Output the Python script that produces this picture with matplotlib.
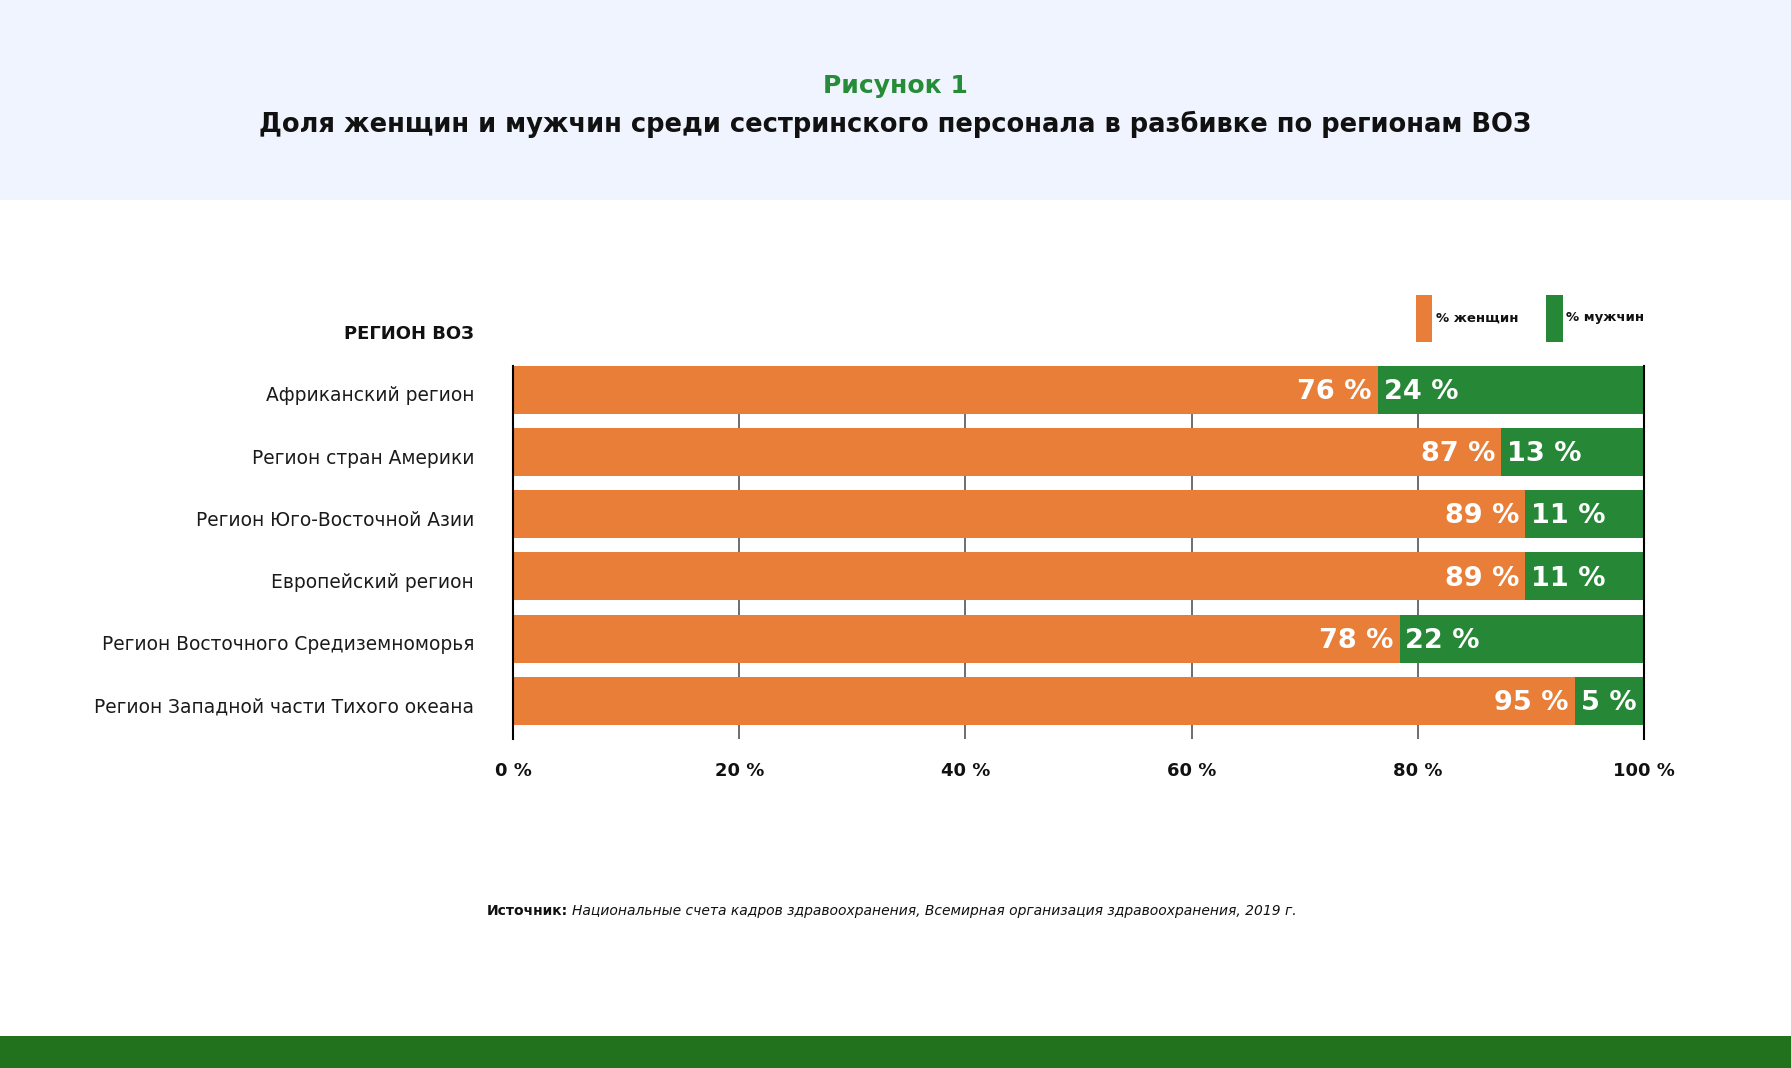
import matplotlib
matplotlib.use("Agg")
import matplotlib.pyplot as plt
from matplotlib.patches import Rectangle, Patch

plt.rcParams['font.family'] = ['DejaVu Sans']

# data
regions = [
    'Африканский регион',
    'Регион стран Америки',
    'Регион Юго-Восточной Азии',
    'Европейский регион',
    'Регион Восточного Средиземноморья',
    'Регион Западной части Тихого океана',
]
women_share = [76.5, 87.4, 89.5, 89.5, 78.4, 93.9]
men_share = [23.5, 12.6, 10.5, 10.5, 21.6, 6.1]
women_labels = ['76 %', '87 %', '89 %', '89 %', '78 %', '95 %']
men_labels = ['24 %', '13 %', '11 %', '11 %', '22 %', '5 %']
x_ticks = [0, 20, 40, 60, 80, 100]
x_tick_labels = ['0 %', '20 %', '40 %', '60 %', '80 %', '100 %']

ORANGE = '#E87E38'
GREEN = '#268837'
INK = '#111111'
W, H = 1791, 1068

fig = plt.figure(figsize=(W / 100, H / 100), dpi=100)
fig.patch.set_facecolor('white')

# header / footer bands
fig.add_artist(Rectangle((0, 1 - 200 / H), 1, 200 / H, transform=fig.transFigure,
                         facecolor='#F0F4FE', edgecolor='none', zorder=0))
fig.add_artist(Rectangle((0, 0), 1, 32 / H, transform=fig.transFigure,
                         facecolor='#22711C', edgecolor='none', zorder=0))

fig.text(0.5, 1 - 84 / H, 'Рисунок 1', ha='center', va='center_baseline',
         fontsize=18, fontweight='bold', color='#268C38')
fig.text(0.5, 1 - 121.5 / H,
         'Доля женщин и мужчин среди сестринского персонала в разбивке по регионам ВОЗ',
         ha='center', va='center_baseline', fontsize=18.5, fontweight='bold', color=INK)

# axes
ax = fig.add_axes([513 / W, 1 - 739 / H, (1644 - 513) / W, (739 - 365.6) / H])
y = list(range(len(regions)))
bar_h = 0.77
ax.barh(y, women_share, height=bar_h, color=ORANGE, zorder=2)
ax.barh(y, men_share, left=women_share, height=bar_h, color=GREEN, zorder=2)

for i in y:
    ax.annotate(women_labels[i], (women_share[i], i), xytext=(-4.5, 0.5),
                textcoords='offset points', ha='right', va='center_baseline',
                fontsize=19.5, fontweight='bold', color='white', zorder=3)
    ax.annotate(men_labels[i], (women_share[i], i), xytext=(4, 0.5),
                textcoords='offset points', ha='left', va='center_baseline',
                fontsize=19.5, fontweight='bold', color='white', zorder=3)
    # region names sit slightly below the bar centre in the reference
    ax.annotate(regions[i], (0, i), xycoords=('axes fraction', 'data'),
                xytext=(-28, -3), textcoords='offset points', ha='right',
                va='center_baseline', fontsize=13.4, color='#1a1a1a',
                annotation_clip=False)

ax.set_xlim(0, 100)
ax.set_ylim(len(regions) - 1 + bar_h / 2 + 0.225, -bar_h / 2)
ax.set_yticks(y)
ax.set_yticklabels([])
ax.set_xticks(x_ticks)
ax.set_xticklabels(x_tick_labels, fontsize=13, fontweight='bold', color=INK)
ax.tick_params(axis='y', length=0)
ax.tick_params(axis='x', length=0, pad=16.5)
ax.xaxis.grid(True, color='#555555', linewidth=1.2, zorder=1)
ax.set_axisbelow(True)
for side in ['top', 'bottom']:
    ax.spines[side].set_visible(False)
for side in ['left', 'right']:
    ax.spines[side].set_color('black')
    ax.spines[side].set_linewidth(1.5)

fig.text(474 / W, 1 - 332.3 / H, 'РЕГИОН ВОЗ', ha='right', va='center_baseline',
         fontsize=13, fontweight='bold', color=INK)

handles = [Patch(facecolor=ORANGE, edgecolor='none', label='% женщин'),
           Patch(facecolor=GREEN, edgecolor='none', label='% мужчин')]
leg = ax.legend(handles=handles, loc='lower right', ncol=2, frameon=False,
                bbox_to_anchor=(1.0, 1.0 + 24 / (739 - 365.6)), borderaxespad=0,
                borderpad=0, handlelength=1.26, handleheight=5.1,
                handletextpad=0.25, columnspacing=2.1,
                prop={'size': 9.5, 'weight': 'bold'})
for t in leg.get_texts():
    t.set_color(INK)

src = fig.text(486.6 / W, 1 - 909.5 / H, 'Источник:', ha='left', va='center_baseline',
               fontsize=10, fontweight='bold', color=INK)
ax.annotate('Национальные счета кадров здравоохранения, Всемирная организация здравоохранения, 2019 г.',
            xy=(1, 0), xycoords=src, xytext=(3, 0), textcoords='offset points',
            ha='left', va='bottom', fontsize=10, fontstyle='italic', color=INK,
            annotation_clip=False)

fig.savefig('out.png', dpi=100)
